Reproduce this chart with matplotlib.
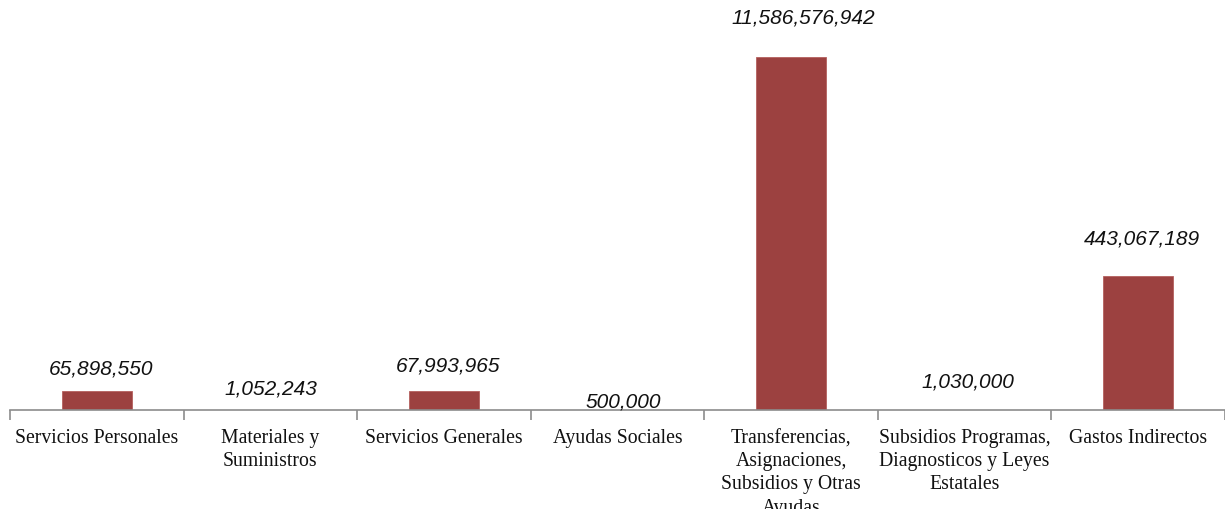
import matplotlib
matplotlib.use('Agg')
import matplotlib.pyplot as plt
import numpy as np

# Category names as shown under the axis
categories = ['Servicios Personales', 'Materiales y\nSuministros', 'Servicios Generales',
              'Ayudas Sociales', 'Transferencias,\nAsignaciones,\nSubsidios y Otras\nAyudas',
              'Subsidios Programas,\nDiagnosticos y Leyes\nEstatales', 'Gastos Indirectos']
# Amounts printed above the bars
amounts = [65898550, 1052243, 67993965, 500000, 11586576942, 1030000, 443067189]
# Bar heights as drawn in the source chart (its scale is not proportional to the amounts)
bar_heights = [19, 0, 19.5, 0, 353, 0, 134]

# label placement (pixels) - the original labels were hand-placed
label_dy = [23, 22, 25, 9, 40, 29, 38]
label_dx = [4, 1, 4, 6, 12, 3, 4]

bar_color = '#9C4140'
axis_color = '#8C8C8C'

fig = plt.figure(figsize=(12.25, 5.1), dpi=100)
ax = fig.add_axes([10 / 1225, 99 / 510, 1 - 10 / 1225, 411 / 510])

x = np.arange(len(categories))
ax.bar(x, bar_heights, width=0.4, color=bar_color, edgecolor='#B5605E', linewidth=0.6, zorder=2)

for i, (h, v) in enumerate(zip(bar_heights, amounts)):
    ax.annotate(f'{v:,}', xy=(x[i], h), xytext=(label_dx[i], label_dy[i]),
                textcoords='offset pixels', ha='center', va='center',
                fontsize=15, style='italic', family='Liberation Sans', color='#111111')

ax.set_xlim(-0.5, len(categories) - 0.5)
ax.set_ylim(0, 411)

for s in ['top', 'right', 'left']:
    ax.spines[s].set_visible(False)
ax.spines['bottom'].set_color(axis_color)
ax.spines['bottom'].set_linewidth(1.2)
ax.set_yticks([])

ax.set_xticks(np.arange(len(categories) + 1) - 0.5)
ax.set_xticklabels([])
ax.set_xticks(x, minor=True)
ax.set_xticklabels(categories, minor=True, fontsize=14.2, family='Liberation Serif',
                   linespacing=1.3, va='top', color='#111111')
ax.tick_params(axis='x', which='major', length=7, color=axis_color, width=1.2)
ax.tick_params(axis='x', which='minor', length=0, pad=13)

fig.savefig('out.png', dpi=100)
